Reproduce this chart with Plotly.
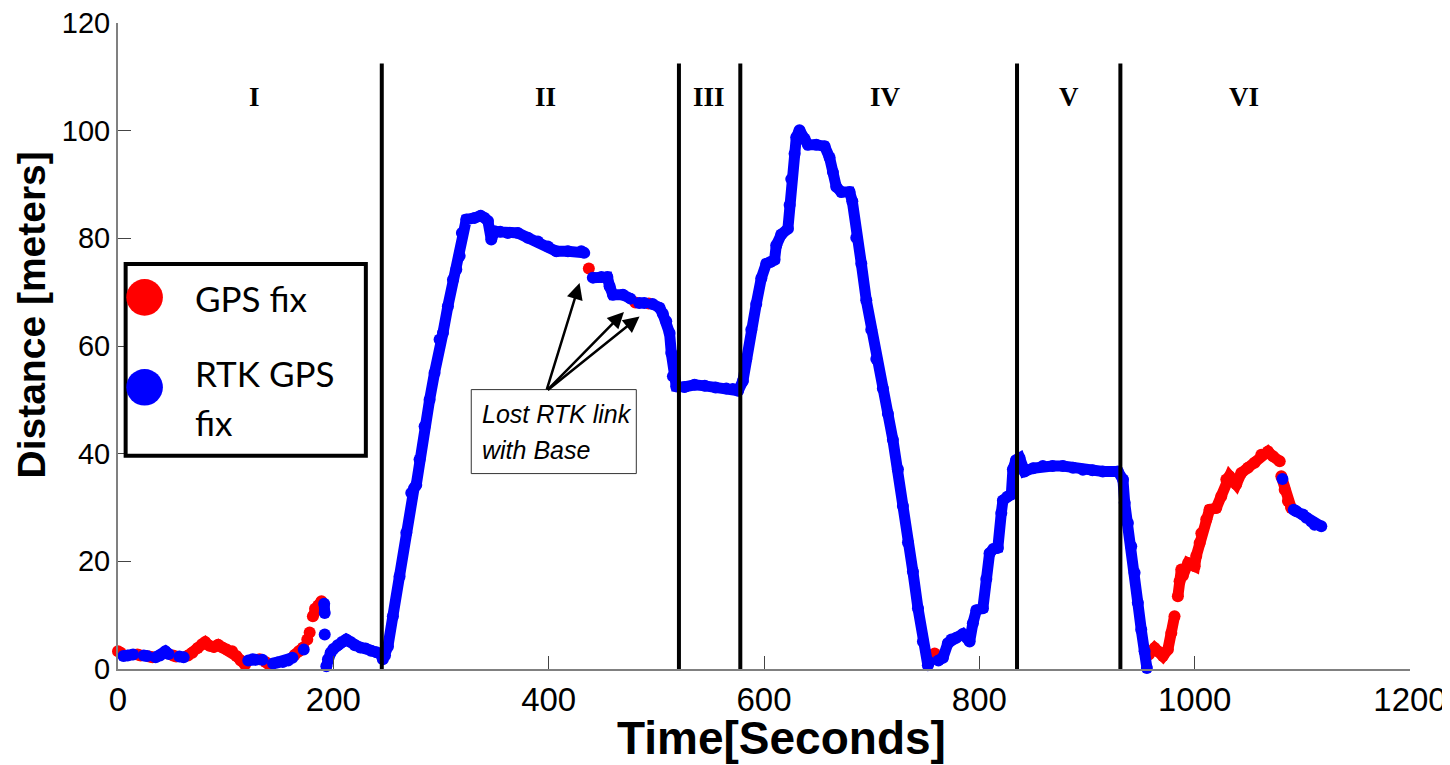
import plotly.graph_objects as go

# ---------------- data ----------------
N = None
# GPS fix (red) samples: time [s], distance [m]; None breaks the trace
gps_t = [0, 2.5, N, 18, 21, N, 29, 32, N, 51, 54, N,
         65, 69, 74, 78, 81, 85, 89, 93, 97, 101, 106, 110, 114, 118, N,
         131.5, N, 137, 140, N, 164, 168, 172, N, 175.8, N, 178, N,
         181, 183, 186, 189, N,
         437.3, N, 480.5, N, 493, N,
         755.5, 758.5, N,
         957.5, 962.8, 966.5, 970.5, 975.1, 978.3, 981.3, N,
         984.4, 986, 987.6, 989, 993.9, 1000, 1001.5, 1004.6, 1006.2, 1010.8,
         1013.8, 1020, 1024.7, 1029.4, 1032.4, 1038.6, 1043.3, 1049.5, 1055.7,
         1061.9, 1068.1, 1072.8, 1079, N,
         1080.5, 1083.6, 1086.6, 1089.7]
gps_d = [3.3, 3.0, N, 2.7, 2.5, N, 2.3, 2.2, N, 2.5, 2.3, N,
         2.5, 3.0, 3.9, 4.6, 5.0, 4.3, 4.1, 4.5, 4.0, 3.6, 3.3, 2.4, 1.6, 0.8, N,
         1.8, N, 1.3, 0.9, N, 2.6, 3.3, 4.0, N, 5.5, N, 6.8, N,
         9.8, 11.2, 11.8, 12.6, N,
         74.4, N, 68.1, N, 67.9, N,
         2.4, 2.9, N,
         2.7, 3.9, 3.2, 2.4, 3.6, 6.7, 9.8, N,
         13.5, 16.3, 18.5, 17.3, 19.7, 19.1, 21.0, 23.4, 25.2, 27.8,
         29.6, 29.9, 32.1, 35.2, 35.8, 34.3, 36.4, 37.4, 38.3,
         39.8, 40.4, 39.5, 38.6, N,
         35.8, 33.3, 31.2, 29.9]

# RTK GPS fix (blue) samples
rtk_t = [5, 9, 14, N, 24, 27, N, 35, 39, 44, 47, N, 57, 61, N,
         121, 125, 128, N, 134, N, 144, 148, 153, 158, 162, N, 172.5, N,
         191.5, 192, N, 192, N,
         193.5, 195, 197.5, 200, 204, 208, 212, 216, 220, 225, 230, 235, 240, 244,
         246, 248, 250.7, 255.3, 261.5, 267.8, 272.4, 275, 277, 280.1, 284.8,
         289.4, 294, 298.7, 301.8, 306.4, 311.1, 314.2, 317.3, 319.4, 323.5,
         331.2, 336.8, 340.5, 343.6, 346.7, 349.8, 355, 362.1, 371.4, 380.7,
         390, 399.3, 407.1, 417.9, 430.3, 433, N,
         441, 448.9, 454.5, 456.6, 459.7, 469, 476, N,
         484, 489, N,
         496.5, 503, 506, 509.2, 512.3, 513.9, 515.4, 518.5, 526.2, 535.5, 545,
         555, 565, 571, 576, 580.4, 583.5, 588.2, 592.8, 597.5, 602.1, 606,
         609.8, 611.4, 616, 622.2, 623.8, 625.3, 628.4, 630, 633, 637.7, 640.8,
         648.5, 656.3, 660.9, 664, 667.1, 671.8, 679.5, 682, 685.7, 690.4, 695,
         699.6, 704.3, 710.4, 715.1, 719.7, 724.4, 729, 733.7, 738.3, 743,
         747.6, 752.2, 753.5, N,
         762, 766.2, 770.8, 774, 778.6, 784.7, 788, 791, 794, 797.2, 803.3,
         806.5, 809.5, 813, 817.2, 820.4, 821.9, 826, 829.7, 831.2, 834, 837.4,
         842, 850, 859, 868, 877.6, 887, 896.2, 905, 914.7, 928.7, 933.4, 935,
         938, 941.1, 944.2, 947.2, 950.4, 953.5, 955.6, N,
         1081.5, N,
         1092, 1094.4, 1100.5, 1103.7, 1108.3, 1111.4, 1117.6]
rtk_d = [2.4, 2.5, 2.7, N, 2.5, 2.4, N, 2.2, 2.5, 3.3, 2.8, N, 2.3, 2.2, N,
         1.6, 1.8, 1.7, N, 1.7, N, 1.0, 1.2, 1.3, 1.6, 2.1, N, 3.6, N,
         12.1, 10.4, N, 6.4, N,
         0.5, 1.8, 3.0, 3.7, 4.4, 5.0, 5.5, 5.0, 4.4, 4.0, 3.8, 3.4, 3.1, 2.8,
         1.8, 2.5, 4.2, 9.8, 17.2, 25.3, 32.7, 33.6, 34.2, 38.9, 45.1,
         50.0, 55.0, 61.2, 62.4, 67.4, 72.3, 74.2, 76.7, 81.0, 83.5,
         83.8, 84.2, 83.8, 83.2, 79.8, 81.3, 81.2, 81.0, 81.0, 80.1,
         79.4, 78.5, 77.6, 77.6, 77.6, 77.3, N,
         72.7, 72.8, 72.8, 71.1, 69.5, 69.5, 68.8, N,
         68.0, 68.0, N,
         67.8, 67.1, 66.0, 64.6, 62.4, 58.7, 54.4, 52.5, 52.4, 52.8, 52.6,
         52.3, 52.1, 52.0, 51.7, 53.5, 57.6, 63.0, 67.8, 72.6, 75.3, 75.6,
         76.0, 78.7, 80.7, 81.8, 86.2, 91.0, 95.7, 98.8, 100.1, 98.5, 97.4,
         97.4, 97.1, 95.0, 92.3, 89.6, 88.6, 88.6, 86.9, 80.1, 75.3, 68.5,
         63.0, 57.6, 52.1, 47.4, 42.6, 37.1, 30.3, 23.5, 18.1, 11.3,
         5.1, 0.7, 1.3, N,
         1.6, 2.1, 4.8, 5.5, 5.8, 6.5, 6.0, 5.1, 8.5, 10.9, 11.3,
         16.7, 21.5, 22.3, 22.5, 29.0, 31.3, 32.0, 32.4, 37.1, 38.8, 39.2,
         36.7, 37.3, 37.7, 37.7, 37.7, 37.4, 37.0, 36.9, 36.7, 36.7, 35.2, 30.9,
         27.1, 22.8, 17.9, 12.3, 7.3, 3.3, 0.2, N,
         35.3, N,
         29.6, 29.3, 28.7, 28.1, 27.4, 26.8, 26.5]

# phase boundaries [s] and phase labels
phase_bounds = [245, 521, 578, 835, 931]
phase_names = ["I", "II", "III", "IV", "V", "VI"]
phase_label_t = [127, 397, 548.5, 713, 883, 1046]

x_ticks = [0, 200, 400, 600, 800, 1000, 1200]
y_ticks = [0, 20, 40, 60, 80, 100, 120]

legend_names = ["GPS fix", "RTK GPS", "fix"]

# ---------------- figure ----------------
RED = "#FF0000"
BLUE = "#0000FF"
SANS = "Liberation Sans, Arial"

OFF = 8  # page body margin of the html page
L, T = 118 - OFF, 23 - OFF
W, H = 1450 - OFF, 765 - OFF
pw, ph = 1292, 646
R = W - L - pw
B = H - T - ph


def px_to_paper(px_x, px_y):
    """page pixel position -> paper fraction"""
    return (px_x - OFF - L) / pw, (T + ph - (px_y - OFF)) / ph


fig = go.Figure()
fig.add_trace(go.Scatter(x=gps_t, y=gps_d, mode="lines+markers", name="GPS fix",
                         line=dict(color=RED, width=11), marker=dict(color=RED, size=12),
                         connectgaps=False, cliponaxis=False, showlegend=False))
fig.add_trace(go.Scatter(x=rtk_t, y=rtk_d, mode="lines+markers", name="RTK GPS fix",
                         line=dict(color=BLUE, width=11), marker=dict(color=BLUE, size=12),
                         connectgaps=False, cliponaxis=False, showlegend=False))

shapes = []
for b in phase_bounds:
    shapes.append(dict(type="line", xref="x", yref="y", x0=b, x1=b, y0=0, y1=112.5,
                       line=dict(color="black", width=4)))
# legend box
shapes.append(dict(type="rect", xref="x", yref="y", x0=7.1, x1=230.2, y0=39.6, y1=75.25,
                   line=dict(color="black", width=4), fillcolor="white"))
shapes.append(dict(type="circle", xref="x", yref="y", x0=24.7 - 17.0, x1=24.7 + 17.0,
                   y0=69.04 - 3.4, y1=69.04 + 3.4, line=dict(width=0), fillcolor=RED))
shapes.append(dict(type="circle", xref="x", yref="y", x0=24.7 - 17.0, x1=24.7 + 17.0,
                   y0=52.33 - 3.4, y1=52.33 + 3.4, line=dict(width=0), fillcolor=BLUE))
# callout box
shapes.append(dict(type="rect", xref="x", yref="y", x0=328.1, x1=481.4, y0=36.3, y1=51.9,
                   line=dict(color="#333333", width=1), fillcolor="rgba(0,0,0,0)"))

annotations = []
for name, t in zip(phase_names, phase_label_t):
    annotations.append(dict(x=t, y=106.2, xref="x", yref="y", text="<b>" + name + "</b>",
                            showarrow=False,
                            font=dict(family="Liberation Serif, Times New Roman", size=27,
                                      color="black"),
                            xanchor="center", yanchor="middle"))
# legend text
for txt, yy in zip(legend_names, [69.0, 55.06, 45.9]):
    annotations.append(dict(x=69.3, y=yy, xref="x", yref="y", text=txt, showarrow=False,
                            font=dict(family="Lato, Carlito, Open Sans", size=35, color="black"),
                            xanchor="left", yanchor="middle"))
# callout text
annotations.append(dict(x=336.0, y=47.4, xref="x", yref="y", text="<i>Lost RTK link</i>",
                        showarrow=False, font=dict(family=SANS, size=25, color="black"),
                        xanchor="left", yanchor="middle"))
annotations.append(dict(x=336.0, y=40.7, xref="x", yref="y", text="<i>with Base</i>",
                        showarrow=False, font=dict(family=SANS, size=25, color="black"),
                        xanchor="left", yanchor="middle"))
# callout arrows
for tx, ty in [(428.7, 71.7), (469.9, 66.3), (484.4, 65.5)]:
    annotations.append(dict(x=tx, y=ty, ax=397.8, ay=51.6, xref="x", yref="y",
                            axref="x", ayref="y", text="", showarrow=True,
                            arrowhead=2, arrowsize=1.3, arrowwidth=2.5, arrowcolor="black",
                            standoff=0, startstandoff=0))
# axis titles (positions given in page pixels)
tx_, ty_ = px_to_paper(781, 738)
annotations.append(dict(x=tx_, y=ty_, xref="paper", yref="paper",
                        text="<b>Time[Seconds]</b>", showarrow=False,
                        font=dict(family=SANS, size=46, color="black"),
                        xanchor="center", yanchor="middle"))
dx_, dy_ = px_to_paper(31, 315.5)
annotations.append(dict(x=dx_, y=dy_, xref="paper", yref="paper",
                        text="<b>Distance [meters]</b>", showarrow=False,
                        textangle=-90, font=dict(family=SANS, size=39, color="black"),
                        xanchor="center", yanchor="middle"))

fig.update_layout(
    width=W, height=H,
    margin=dict(l=L, r=R, t=T, b=B, pad=0, autoexpand=False),
    paper_bgcolor="white", plot_bgcolor="white",
    shapes=shapes, annotations=annotations,
    hovermode=False, showlegend=False,
    xaxis=dict(range=[0, 1200], tickvals=x_ticks, ticktext=[str(v) for v in x_ticks],
               ticks="inside", ticklen=13, tickwidth=1, tickcolor="#444444",
               showline=True, linecolor="#808080", linewidth=2,
               showgrid=False, zeroline=False, automargin=False,
               ticklabeloverflow="allow",
               tickfont=dict(family=SANS, size=33, color="black")),
    yaxis=dict(range=[0, 120], tickvals=y_ticks, ticktext=[str(v) for v in y_ticks],
               ticks="inside", ticklen=13, tickwidth=1, tickcolor="#444444",
               showline=True, linecolor="#808080", linewidth=2,
               showgrid=False, zeroline=False, automargin=False,
               ticklabeloverflow="allow",
               tickfont=dict(family=SANS, size=29, color="black")),
)

fig.write_html("out.html", config={"displayModeBar": False})
